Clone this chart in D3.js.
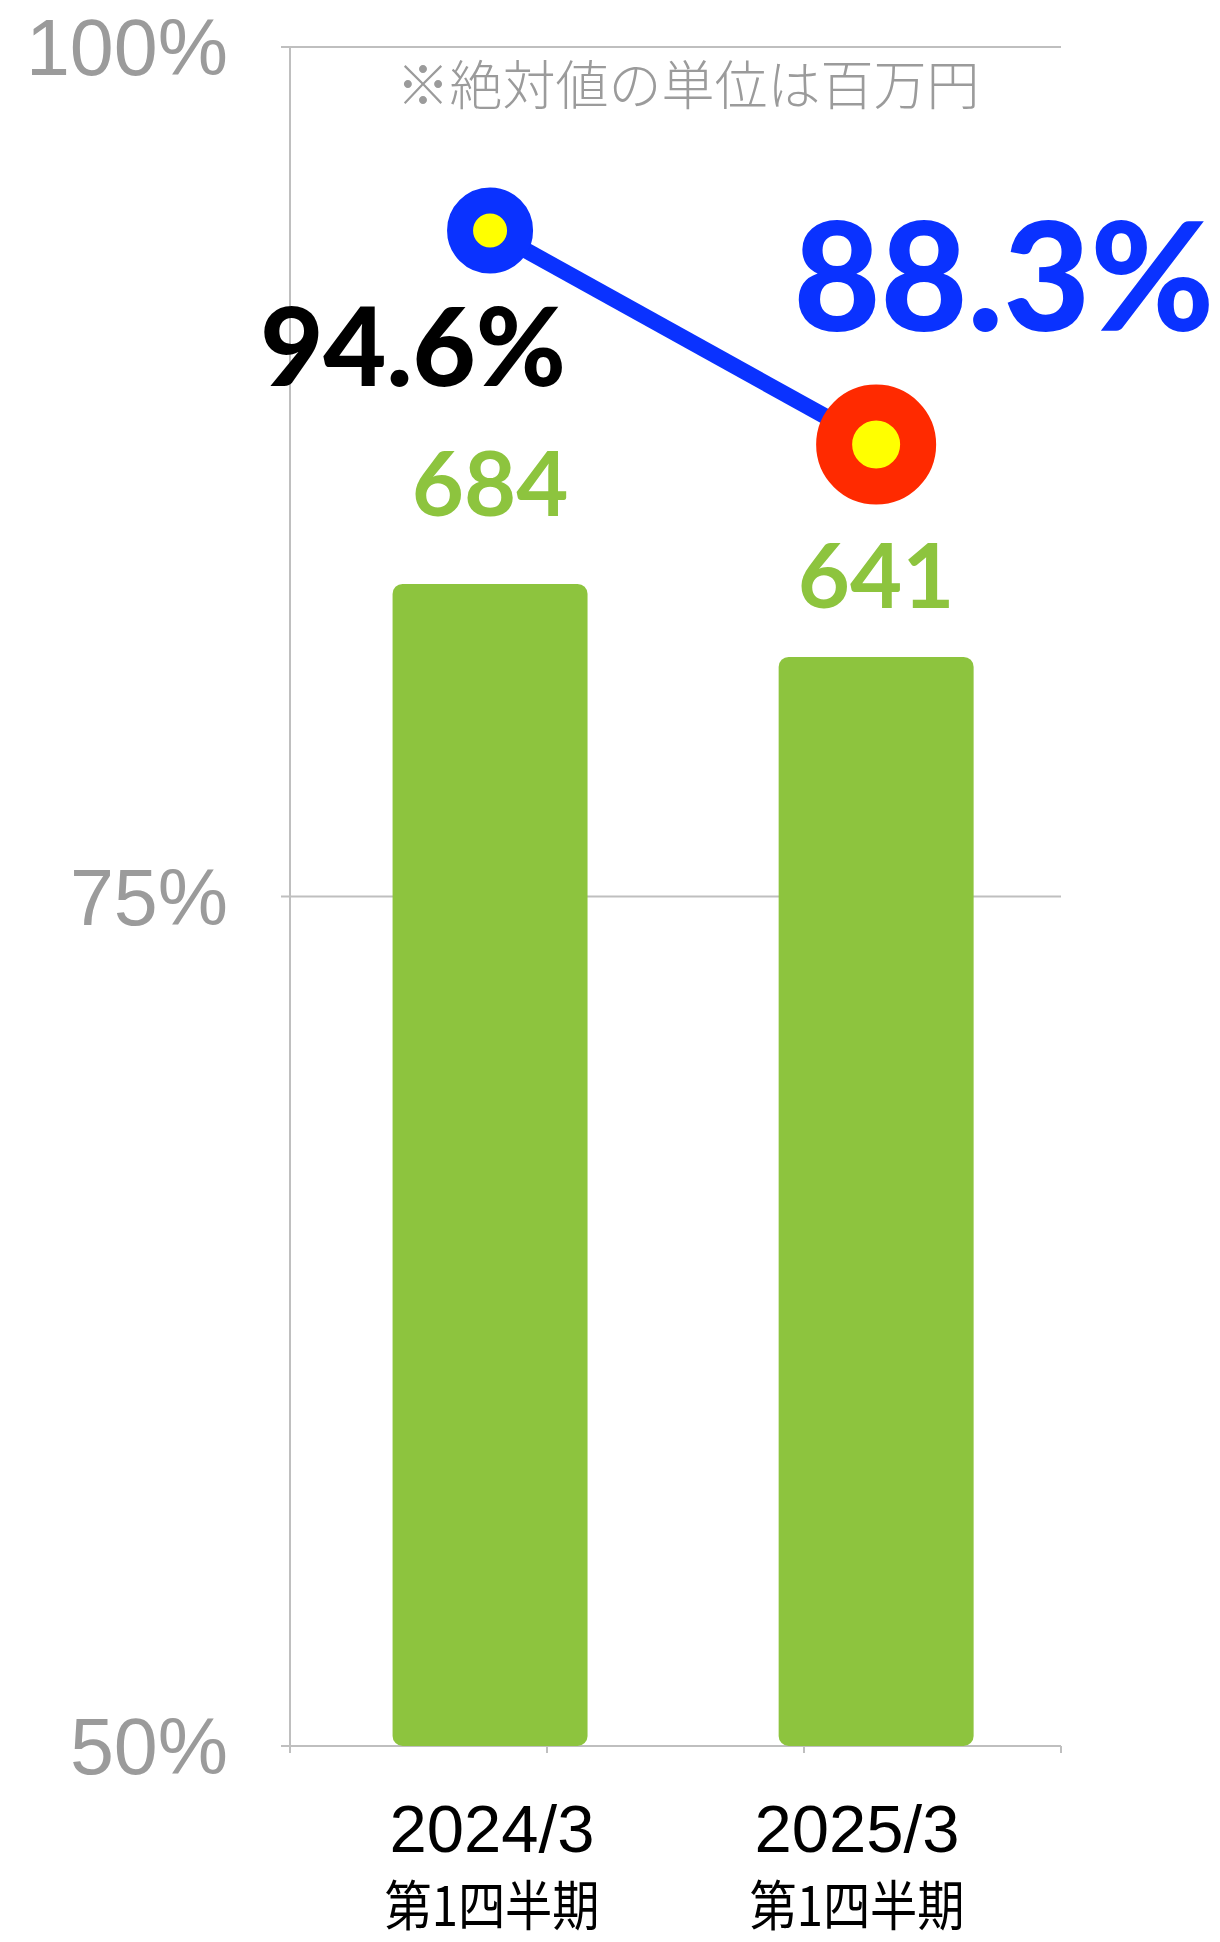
<!DOCTYPE html>
<html>
<head>
<meta charset="utf-8">
<script src="https://cdn.jsdelivr.net/npm/d3@7"></script>
<style>
  html, body { margin: 0; padding: 0; background: #fff; }
</style>
</head>
<body>
<div id="plot"></div>
<script>
// Data
const categories = ["2024/3", "2025/3"];
const subLabels = ["第1四半期", "第1四半期"];
const amounts = [684, 641];          // 百万円
const ratios = [94.6, 88.3];         // %
const ratioTicks = [50, 75, 100];
const note = "※絶対値の単位は百万円";

// Chart setup
const width = 1220;
const height = 1942;
const plotLeft = 290, plotRight = 1061, plotTop = 47, plotBottom = 1746;

const svg = d3.select("#plot")
  .append("svg")
  .attr("width", width)
  .attr("height", height);

const x = d3.scaleBand()
  .domain(categories)
  .range([plotLeft, plotRight])
  .paddingInner(0.495)
  .paddingOuter(0.246)
  .align(0.54);

const yRatio = d3.scaleLinear().domain([50, 100]).range([plotBottom, plotTop]);
const yAmount = d3.scaleLinear().domain([0, 1000]).range([plotBottom, plotTop]);

// label centres sit a little off the bars in the original
const xLabel = d3.scalePoint().domain(categories).range([492, 857]);
// tick marks on the category axis
const xTick = d3.scaleLinear().domain([0, 3]).range([plotLeft, plotRight]);

const grey = "#bfbfbf";

// Gridlines + left ticks
svg.append("g")
  .selectAll("line")
  .data(ratioTicks)
  .join("line")
  .attr("x1", plotLeft - 9)
  .attr("x2", plotRight)
  .attr("y1", d => yRatio(d))
  .attr("y2", d => yRatio(d))
  .attr("stroke", grey)
  .attr("stroke-width", 2);

// y axis line
svg.append("line")
  .attr("x1", plotLeft).attr("x2", plotLeft)
  .attr("y1", yRatio(100)).attr("y2", yRatio(50) + 6)
  .attr("stroke", grey)
  .attr("stroke-width", 2);

// bottom ticks
svg.append("g")
  .selectAll("line")
  .data(d3.range(0, 4))
  .join("line")
  .attr("x1", d => xTick(d))
  .attr("x2", d => xTick(d))
  .attr("y1", plotBottom)
  .attr("y2", plotBottom + 7)
  .attr("stroke", grey)
  .attr("stroke-width", 2);

// y tick labels
svg.append("g")
  .selectAll("text")
  .data(ratioTicks)
  .join("text")
  .attr("x", 228)
  .attr("y", d => yRatio(d) + 28)
  .attr("text-anchor", "end")
  .style("font-family", "'Liberation Sans', Arial, sans-serif")
  .style("font-size", "79px")
  .style("fill", "#9b9b9b")
  .text(d => d + "%");

// note
svg.append("text")
  .attr("x", 688)
  .attr("y", 105)
  .attr("text-anchor", "middle")
  .style("font-family", "'Noto Sans CJK JP', sans-serif")
  .style("font-weight", 300)
  .style("font-size", "53px")
  .style("fill", "#9b9b9b")
  .text(note);

// bars
svg.append("g")
  .selectAll("rect")
  .data(amounts)
  .join("rect")
  .attr("x", (d, i) => x(categories[i]))
  .attr("y", d => yAmount(d))
  .attr("width", x.bandwidth())
  .attr("height", d => yAmount(0) - yAmount(d))
  .attr("rx", 10)
  .attr("fill", "#8dc43e");

// bar value labels
const amountOffset = [68, 49];
svg.append("g")
  .selectAll("text")
  .data(amounts)
  .join("text")
  .attr("x", (d, i) => x(categories[i]) + x.bandwidth() / 2)
  .attr("y", (d, i) => yAmount(d) - amountOffset[i])
  .attr("text-anchor", "middle")
  .style("font-family", "Lato, 'Liberation Sans', sans-serif")
  .style("font-weight", 700)
  .style("font-size", "90px")
  .style("fill", "#8dc43e")
  .text(d => d);

// ratio line
const cx = (d, i) => x(categories[i]) + x.bandwidth() / 2;
const line = d3.line()
  .x((d, i) => cx(d, i))
  .y(d => yRatio(d));

svg.append("path")
  .datum(ratios)
  .attr("d", line)
  .attr("fill", "none")
  .attr("stroke", "#0a32ff")
  .attr("stroke-width", 16);

// markers
const markerR = [30, 42];
const markerW = [26, 36];
const markerC = ["#0a32ff", "#ff2a00"];
svg.append("g")
  .selectAll("circle")
  .data(ratios)
  .join("circle")
  .attr("cx", (d, i) => cx(d, i))
  .attr("cy", d => yRatio(d))
  .attr("r", (d, i) => markerR[i])
  .attr("fill", "#ffff00")
  .attr("stroke", (d, i) => markerC[i])
  .attr("stroke-width", (d, i) => markerW[i]);

// ratio labels
svg.append("text")
  .attr("x", 413)
  .attr("y", 386)
  .attr("text-anchor", "middle")
  .style("font-family", "Lato, 'Liberation Sans', sans-serif")
  .style("font-weight", 900)
  .style("font-size", "109px")
  .style("fill", "#000")
  .text(ratios[0] + "%");

svg.append("text")
  .attr("x", 1004)
  .attr("y", 331)
  .attr("text-anchor", "middle")
  .style("font-family", "Lato, 'Liberation Sans', sans-serif")
  .style("font-weight", 900)
  .style("font-size", "150px")
  .style("fill", "#0a32ff")
  .text(ratios[1] + "%");

// category labels
svg.append("g")
  .selectAll("text")
  .data(categories)
  .join("text")
  .attr("x", d => xLabel(d))
  .attr("y", 1852)
  .attr("text-anchor", "middle")
  .style("font-family", "'Liberation Sans', Arial, sans-serif")
  .style("font-size", "67px")
  .style("fill", "#000")
  .text(d => d);

svg.append("g")
  .selectAll("text")
  .data(subLabels)
  .join("text")
  .attr("x", (d, i) => xLabel(categories[i]))
  .attr("y", 1926)
  .attr("text-anchor", "middle")
  .attr("textLength", 215)
  .attr("lengthAdjust", "spacingAndGlyphs")
  .style("font-family", "'Noto Sans CJK JP', sans-serif")
  .style("font-size", "54px")
  .style("fill", "#000")
  .text(d => d);
</script>
</body>
</html>
